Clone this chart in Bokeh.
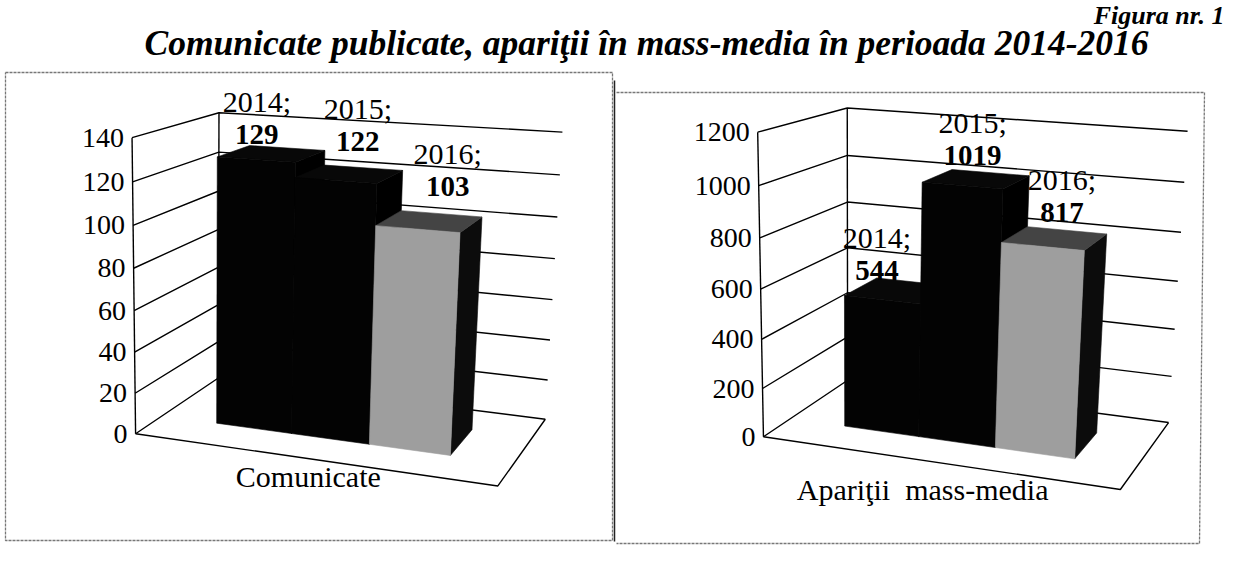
import numpy as np
from bokeh.plotting import figure
from bokeh.models import Range1d, ColumnDataSource
from bokeh.core.properties import value
from bokeh.embed import file_html
from bokeh.resources import INLINE

# ---------------- data ----------------
years = ["2014", "2015", "2016"]
comunicate = [129, 122, 103]
aparitii = [544, 1019, 817]
ticks_left = [0, 20, 40, 60, 80, 100, 120, 140]
ticks_right = [0, 200, 400, 600, 800, 1000, 1200]
category_left = "Comunicate"
category_right = "Apariţii\u00a0 mass-media"
title_text = "Comunicate publicate, apariţii în mass-media în perioada 2014-2016"
figure_label = "Figura nr. 1"

# ---------------- styles / layout ----------------
front_colors = ["#030303", "#030303", "#9e9e9e"]
top_colors = ["#080808", "#080808", "#444444"]
side_colors = ["#000000", "#000000", "#0c0c0c"]
FONT = "Liberation Serif"

# screen positions of the 3D plot-box corners (layout of each panel)
LEFT_BOX = {(0, 0, 0): (135, 432), (0, 1, 0): (132, 137), (0, 0, 1): (218, 379),
            (0, 1, 1): (218, 112), (1, 0, 1): (545, 417), (1, 1, 1): (562, 132),
            (1, 0, 0): (497, 487)}
RIGHT_BOX = {(0, 0, 0): (763, 435), (0, 1, 0): (757, 132), (0, 0, 1): (847, 381),
             (0, 1, 1): (847, 107), (1, 0, 1): (1168, 421), (1, 1, 1): (1187, 131),
             (1, 0, 0): (1120, 490)}
LEFT_CAT_OFFSET = (0, 18)
RIGHT_CAT_OFFSET = (-12, 27)
# data-label nudges (pixels) as placed in the original chart
LEFT_LABEL_NUDGE = [(-15, -2), (8, -15), (18, -18)]
RIGHT_LABEL_NUDGE = [(-21, -3), (-4, -6), (7, -9)]

GAP_WIDTH = 1.5   # Excel default gap width 150 %
GAP_DEPTH = 1.5   # Excel default gap depth 150 %


def fit_projection(box):
    world = np.array(list(box.keys()), float)
    screen = np.array(list(box.values()), float)
    mu = screen.mean(0)
    s = screen.std()
    sn = (screen - mu) / s
    rows = []
    for (X, Y, Z), (u, v) in zip(world, sn):
        rows.append([X, Y, Z, 1, 0, 0, 0, 0, -u * X, -u * Y, -u * Z, -u])
        rows.append([0, 0, 0, 0, X, Y, Z, 1, -v * X, -v * Y, -v * Z, -v])
    _, _, vt = np.linalg.svd(np.array(rows))
    P = vt[-1].reshape(3, 4)

    def proj(pts):
        pts = np.asarray(pts, float).reshape(-1, 3)
        h = np.c_[pts, np.ones(len(pts))] @ P.T
        return h[:, :2] / h[:, 2:3] * s + mu
    return proj


p = figure(width=1226, height=553, output_backend="svg", toolbar_location=None,
           x_range=Range1d(0, 1226), y_range=Range1d(553, 0), min_border=0)
p.axis.visible = False
p.grid.visible = False
p.outline_line_color = None
p.background_fill_color = "white"

# panel frames
p.multi_line(xs=[[5, 612, 612, 5, 5], [616, 1204, 1199, 616]],
             ys=[[72, 72, 540, 540, 72], [92, 92, 543, 543]],
             line_color="#777777", line_width=1.3, line_dash="3 1")
p.line(x=[614, 614], y=[80, 541], line_color="#222222", line_width=1.5)


def draw_panel(box, vals, ticks, category, cat_off, nudges):
    proj = fit_projection(box)
    ymax = ticks[-1]
    # walls: grid lines on left wall and back wall
    gx, gy = [], []
    for t in ticks:
        f = t / ymax
        pts = proj([(0, f, 0), (0, f, 1), (1, f, 1)])
        gx.append(list(pts[:, 0]))
        gy.append(list(pts[:, 1]))
    # left wall front edge, back-left corner, floor front and right edges
    for seg in ([(0, 0, 0), (0, 1, 0)], [(0, 0, 1), (0, 1, 1)],
                [(0, 0, 0), (1, 0, 0), (1, 0, 1)]):
        pts = proj(seg)
        gx.append(list(pts[:, 0]))
        gy.append(list(pts[:, 1]))
    p.multi_line(xs=gx, ys=gy, line_color="black", line_width=1.4)

    # tick labels
    tp = proj([(0, t / ymax, 0) for t in ticks])
    p.text(x=tp[:, 0] - 8, y=tp[:, 1], text=[str(t) for t in ticks],
           text_font=value(FONT), text_font_size=value("28px"),
           text_align="right", text_baseline="middle", text_color="black")

    # bars
    n = len(vals)
    w = 1.0 / (n + GAP_WIDTH)
    x_start = (1 - n * w) / 2
    d = 1.0 / (1 + GAP_DEPTH)
    z0, z1 = (1 - d) / 2, (1 + d) / 2
    lab_x, lab_y = [], []
    for i, v in enumerate(vals):
        x0 = x_start + i * w
        x1 = x0 + w
        h = v / ymax
        side = proj([(x1, 0, z0), (x1, 0, z1), (x1, h, z1), (x1, h, z0)])
        top = proj([(x0, h, z0), (x1, h, z0), (x1, h, z1), (x0, h, z1)])
        front = proj([(x0, 0, z0), (x1, 0, z0), (x1, h, z0), (x0, h, z0)])
        for face, col in ((side, side_colors[i]), (top, top_colors[i]),
                          (front, front_colors[i])):
            p.patch(x=face[:, 0], y=face[:, 1], fill_color=col,
                    line_color=col, line_width=0.6)
        c = proj([((x0 + x1) / 2, h, 0.5)])[0]
        lab_x.append(c[0] + nudges[i][0])
        lab_y.append(c[1] + nudges[i][1])
    lab_x = np.array(lab_x)
    lab_y = np.array(lab_y)
    src = ColumnDataSource(dict(x=lab_x, y1=lab_y - 50, y2=lab_y - 17,
                                yr=[y + ";" for y in years],
                                val=[str(v) for v in vals]))
    p.text(x="x", y="y1", text="yr", source=src, text_font=value(FONT),
           text_font_size=value("30px"), text_align="center",
           text_baseline="middle", text_color="black")
    p.text(x="x", y="y2", text="val", source=src, text_font=value(FONT),
           text_font_size=value("29px"), text_font_style="bold",
           text_align="center", text_baseline="middle", text_color="black")

    # category label
    cp = proj([(0.5, 0, 0)])[0]
    p.text(x=[cp[0] + cat_off[0]], y=[cp[1] + cat_off[1]], text=[category],
           text_font=value(FONT), text_font_size=value("30px"),
           text_align="center", text_baseline="middle", text_color="black")


draw_panel(LEFT_BOX, comunicate, ticks_left, category_left, LEFT_CAT_OFFSET,
           LEFT_LABEL_NUDGE)
draw_panel(RIGHT_BOX, aparitii, ticks_right, category_right, RIGHT_CAT_OFFSET,
           RIGHT_LABEL_NUDGE)

# titles
p.text(x=[646], y=[42], text=[title_text], text_font=value(FONT),
       text_font_size=value("35.5px"), text_font_style="bold italic",
       text_align="center", text_baseline="middle", text_color="black")
p.text(x=[1224], y=[15], text=[figure_label], text_font=value(FONT),
       text_font_size=value("26px"), text_font_style="bold italic",
       text_align="right", text_baseline="middle", text_color="black")

open("out.html", "w").write(file_html(p, INLINE))
